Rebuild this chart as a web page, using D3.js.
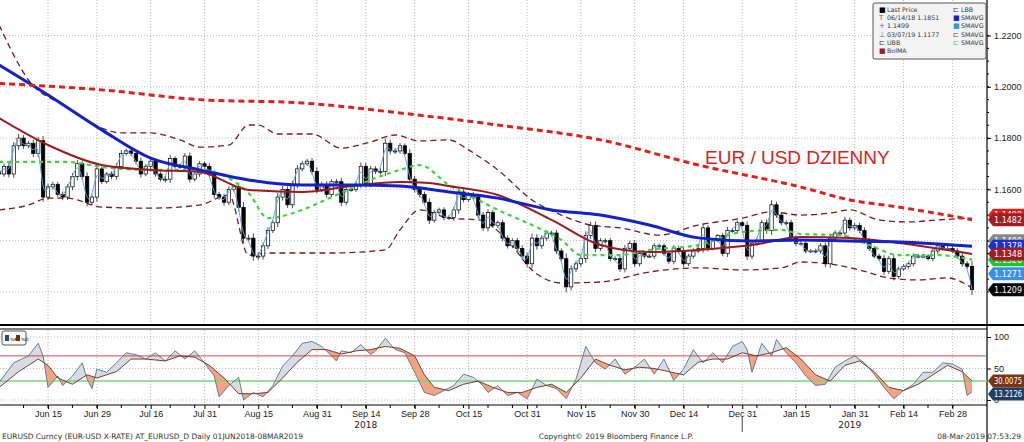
<!DOCTYPE html>
<html><head><meta charset="utf-8">
<script src="https://cdn.jsdelivr.net/npm/d3@7"></script>
<style>body{margin:0;background:#fff}svg{display:block;font-family:"DejaVu Sans",sans-serif}</style>
</head><body><svg id="c" width="1024" height="442"></svg>
<script>
// ---- DATA ----
const startDate = "2018-06-01";
const closes = [1.1660,
1.1690,1.1660,1.1770,1.1800,1.1770, 1.1780,1.1740,1.1790,1.1570,1.1610, 1.1620,1.1580,1.1570,1.1610,1.1650, 1.1700,1.1650,1.1550,1.1570,1.1680,
1.1630,1.1660,1.1650,1.1690,1.1740, 1.1750,1.1740,1.1710,1.1660,1.1690, 1.1710,1.1660,1.1640,1.1640,1.1720, 1.1690,1.1690,1.1730,1.1640,1.1660, 1.1700,1.1690,
1.1660,1.1580,1.1570, 1.1550,1.1600,1.1610,1.1530,1.1410, 1.1410,1.1340,1.1340,1.1380,1.1440, 1.1470,1.1570,1.1600,1.1540,1.1620, 1.1680,1.1700,1.1710,1.1670,1.1600,
1.1620,1.1580,1.1630,1.1630,1.1550, 1.1600,1.1600,1.1620,1.1690,1.1620, 1.1680,1.1670,1.1670,1.1780,1.1750, 1.1750,1.1770,1.1740,1.1640,1.1600,
1.1580,1.1550,1.1480,1.1510,1.1520, 1.1490,1.1490,1.1520,1.1590,1.1560, 1.1580,1.1570,1.1500,1.1450,1.1510, 1.1460,1.1470,1.1410,1.1380,1.1400, 1.1370,1.1340,1.1310,
1.1410,1.1380, 1.1410,1.1430,1.1430,1.1360,1.1330, 1.1220,1.1290,1.1310,1.1330,1.1420, 1.1460,1.1370,1.1400,1.1400,1.1330, 1.1330,1.1290,1.1370,1.1390,1.1310,
1.1350,1.1340,1.1340,1.1380,1.1380, 1.1350,1.1320,1.1370,1.1360,1.1310, 1.1340,1.1360,1.1370,1.1450,1.1370, 1.1400,1.1420,1.1350,1.1440,1.1440, 1.1470,
1.1460,1.1340,1.1390,1.1400, 1.1470,1.1440,1.1540,1.1500,1.1470, 1.1470,1.1410,1.1390,1.1390,1.1360, 1.1360,1.1360,1.1380,1.1310,1.1410, 1.1430,1.1430,1.1480,1.1450,
1.1460, 1.1440,1.1400,1.1370,1.1340,1.1330, 1.1280,1.1330,1.1260,1.1290,1.1300, 1.1310,1.1340,1.1340,1.1340,1.1330, 1.1360,1.1380,1.1370,1.1370,
1.1360, 1.1340,1.1310,1.1300,1.1209];
const wickPips = [40,35,45,50,55,40,30,45,50,60,40,35,30,40,35,45,50,40,55,35,60,30,25,35,40,45,30,35,40,45,30,40,35,30,45,50,30,35,40,45,30,35,30,
40,50,35,45,40,30,55,70,45,60,50,45,40,35,55,45,40,45,50,35,30,40,55,35,40,30,35,50,40,30,35,50,45,40,35,40,60,45,40,35,30,55,40,
35,40,50,35,30,35,30,40,50,35,30,35,45,40,45,35,30,40,35,30,35,40,45,60,50,40,35,30,40,35,70,45,40,35,55,45,50,35,30,35,30,40,45,35,40,
35,30,25,35,30,30,35,40,35,40,30,35,30,55,40,25,20,35,45,30,30,25,50,40,35,40,45,60,40,35,30,40,35,30,30,25,30,35,45,50,35,30,45,35,
30,35,40,35,30,30,45,35,50,30,25,30,35,30,30,25,35,40,30,30,30,35,40,35,70];
// indicators as [tradingDayIndex, value]
const sma200 = [[0,1.2013],[21,1.1988],[41,1.1950],[62,1.1937],[82,1.1898],[102,1.1851],[123,1.1793],[143,1.1695],[164,1.1609],[174,1.1559],[184,1.1531],[199,1.1482]];
const sma100 = [[0,1.2085],[10,1.1968],[21,1.1832],[31,1.1722],[41,1.1676],[51,1.1637],[62,1.1617],[72,1.1617],[82,1.1613],[92,1.1590],[102,1.1566],[113,1.1520],[123,1.1500],[133,1.1461],[143,1.1411],[154,1.1399],[164,1.1403],[174,1.1399],[184,1.1395],[199,1.1378]];
const sma50 = [[0,1.1878],[10,1.1773],[21,1.1695],[31,1.1676],[41,1.1668],[51,1.1598],[62,1.1590],[72,1.1613],[82,1.1629],[88,1.1625],[92,1.1613],[102,1.1578],[113,1.1481],[123,1.1383],[133,1.1356],[143,1.1364],[154,1.1383],[164,1.1414],[174,1.1411],[184,1.1391],[199,1.1348]];
const sma20 = [[0,1.1707],[14,1.1707],[21,1.1687],[31,1.1676],[41,1.1676],[51,1.1586],[55,1.1488],[62,1.1520],[68,1.1570],[76,1.1637],[82,1.1676],[86,1.1695],[92,1.1617],[98,1.1559],[102,1.1520],[109,1.1461],[115,1.1403],[119,1.1344],[127,1.1344],[133,1.1364],[143,1.1383],[152,1.1434],[160,1.1442],[164,1.1426],[172,1.1422],[178,1.1383],[184,1.1344],[192,1.1344],[199,1.1326]];
const bbUpper = [[0,1.2241],[6,1.2027],[14,1.1921],[21,1.1839],[25,1.1820],[31,1.1820],[37,1.1793],[41,1.1765],[47,1.1773],[51,1.1851],[53,1.1851],[57,1.1816],[64,1.1816],[70,1.1761],[76,1.1785],[81,1.1812],[86,1.1789],[92,1.1793],[96,1.1754],[102,1.1676],[109,1.1559],[115,1.1500],[121,1.1461],[127,1.1450],[135,1.1422],[143,1.1461],[152,1.1488],[158,1.1512],[164,1.1500],[170,1.1508],[174,1.1520],[180,1.1481],[186,1.1473],[192,1.1481],[199,1.1488]];
const bbLower = [[0,1.1520],[6,1.1539],[10,1.1566],[14,1.1566],[21,1.1531],[31,1.1527],[41,1.1539],[47,1.1578],[51,1.1344],[55,1.1352],[62,1.1352],[68,1.1352],[79,1.1364],[82,1.1442],[86,1.1520],[92,1.1488],[98,1.1481],[104,1.1403],[109,1.1286],[115,1.1235],[123,1.1239],[133,1.1278],[143,1.1294],[152,1.1286],[160,1.1294],[164,1.1317],[170,1.1309],[176,1.1286],[182,1.1255],[188,1.1247],[194,1.1255],[199,1.1216]];
const stochK = [[0,28],[3,59],[6,70],[8,90],[9,70],[10,20],[12,38],[13,23],[15,38],[17,59],[18,33],[19,18],[20,49],[22,44],[24,59],[26,75],[28,72],[30,65],[32,75],[34,62],[36,78],[38,65],[40,78],[42,59],[44,38],[45,5],[47,23],[49,36],[50,0],[52,12],[54,5],[56,23],[58,54],[60,70],[62,90],[64,93],[66,85],[68,70],[69,62],[70,78],[72,75],[74,88],[76,72],[77,78],[79,98],[81,80],[83,75],[85,44],[87,12],[89,7],[91,15],[93,23],[95,41],[97,36],[99,23],[100,12],[102,23],[104,7],[106,12],[108,2],[110,33],[112,23],[114,18],[116,2],[118,33],[120,85],[122,59],[124,49],[126,65],[128,41],[130,52],[132,65],[134,41],[136,65],[138,31],[140,49],[142,80],[144,59],[146,75],[148,59],[150,85],[152,93],[153,80],[154,44],[156,90],[158,70],[159,96],[161,75],[163,59],[165,38],[167,23],[169,25],[171,52],[173,62],[175,70],[177,59],[179,41],[181,20],[183,2],[185,15],[187,25],[189,44],[191,44],[193,59],[195,57],[197,49],[198,7],[199,13.2]];
const stochD = [[0,20],[4,45],[8,65],[10,55],[12,35],[15,25],[18,40],[20,35],[24,45],[27,65],[30,65],[34,62],[37,70],[40,68],[43,55],[46,35],[49,10],[52,10],[55,12],[58,35],[61,60],[64,80],[67,80],[70,73],[73,78],[76,80],[79,85],[82,82],[85,70],[87,40],[89,20],[92,15],[95,25],[98,30],[101,20],[104,12],[107,12],[110,20],[113,25],[116,12],[119,35],[122,65],[125,55],[128,48],[131,52],[134,50],[137,45],[140,40],[143,60],[146,65],[149,65],[152,75],[155,70],[158,75],[161,83],[164,65],[167,40],[170,30],[173,55],[176,62],[179,45],[182,20],[185,15],[188,25],[191,40],[194,55],[197,45],[199,30]];
const xTickIdx = [10,20,31,42,53,65,75,85,96,108,119,130,140,152,163,175,185,195];
const xTickLbl = ["Jun 15","Jun 29","Jul 16","Jul 31","Aug 15","Aug 31","Sep 14","Sep 28","Oct 15","Oct 31","Nov 15","Nov 30","Dec 14","Dec 31","Jan 15","Jan 31","Feb 14","Feb 28"];
const priceTicks = [1.12,1.14,1.16,1.18,1.20,1.22];
const stochTicks = [0,50,100];
const endTags = [
 {v:1.1499,t:"1.1499",c:"#e0201c"},
 {v:1.1482,t:"1.1482",c:"#a31c22"},
 {v:1.1400,t:"1.1400",c:"#888"},
 {v:1.1326,t:"1.1326",c:"#22c22a"},
 {v:1.1378,t:"1.1378",c:"#1a2fd6"},
 {v:1.1348,t:"1.1348",c:"#a31c22"},
 {v:1.1271,t:"1.1271",c:"#3b8fe6"},
 {v:1.1209,t:"1.1209",c:"#000"}];
// ---- DRAW ----
const svg = d3.select("#c");
const x = d3.scaleLinear().domain([10,199]).range([48,972]);
const y = d3.scaleLinear().domain([1.12,1.22]).range([292,35.5]);
const ys = d3.scaleLinear().domain([0,100]).range([400,337]);
const W = 987;
const grid = "#aaa";
svg.append("g").selectAll("line").data(priceTicks).join("line")
 .attr("x1",0).attr("x2",W).attr("y1",d=>y(d)).attr("y2",d=>y(d))
 .attr("stroke",grid).attr("stroke-dasharray","1,2").attr("stroke-width",0.8);
svg.append("g").selectAll("line").data(xTickIdx).join("line")
 .attr("x1",d=>x(d)).attr("x2",d=>x(d)).attr("y1",0).attr("y2",324)
 .attr("stroke",grid).attr("stroke-dasharray","1,2").attr("stroke-width",0.8);
svg.append("g").selectAll("line").data(xTickIdx).join("line")
 .attr("x1",d=>x(d)).attr("x2",d=>x(d)).attr("y1",330).attr("y2",404)
 .attr("stroke",grid).attr("stroke-dasharray","1,2").attr("stroke-width",0.8);
svg.append("g").selectAll("line").data(stochTicks).join("line")
 .attr("x1",0).attr("x2",W).attr("y1",d=>ys(d)).attr("y2",d=>ys(d))
 .attr("stroke",grid).attr("stroke-dasharray","1,2").attr("stroke-width",0.8);

const ln = d3.line().x(d=>x(d[0])).y(d=>y(d[1])).curve(d3.curveMonotoneX);
svg.append("clipPath").attr("id","mc").append("rect").attr("x",0).attr("y",0).attr("width",W).attr("height",324);
const main = svg.append("g").attr("clip-path","url(#mc)");
function path(data,color,w,dash){main.append("path").datum(data).attr("d",ln).attr("fill","none").attr("stroke",color).attr("stroke-width",w).attr("stroke-dasharray",dash||null);}
path(bbUpper,"#7a1a1e",1.3,"6,4");
path(bbLower,"#7a1a1e",1.3,"6,4");
const cd = closes.map((c,i)=>{const o=i?closes[i-1]:c+0.001;const w=wickPips[i]/10000/2;return{i,o,c,h:Math.max(o,c)+w*0.6,l:Math.min(o,c)-w*0.6};});
const cg = main.append("g");
cg.selectAll("line").data(cd).join("line").attr("x1",d=>x(d.i)).attr("x2",d=>x(d.i)).attr("y1",d=>y(d.h)).attr("y2",d=>y(d.l)).attr("stroke","#222").attr("stroke-width",0.8);
cg.selectAll("rect").data(cd).join("rect").attr("x",d=>x(d.i)-1.7).attr("width",3.4)
 .attr("y",d=>y(Math.max(d.o,d.c))).attr("height",d=>Math.max(1,Math.abs(y(d.o)-y(d.c))))
 .attr("fill",d=>d.c>=d.o?"#fff":"#000").attr("stroke","#000").attr("stroke-width",0.7);
main.append("path").datum(closes.map((c,i)=>[i,c])).attr("d",d3.line().x(d=>x(d[0])).y(d=>y(d[1])).curve(d3.curveBasis)).attr("fill","none").attr("stroke","#5aa6e8").attr("stroke-width",1);
path(sma20,"#3dd43d",2.2,"4,4");
path(sma50,"#9b1b20",2);
path(sma100,"#1421c8",3);
path(sma200,"#e0201c",3,"6,4");

svg.append("text").attr("x",705).attr("y",164).attr("fill","#e0201c").attr("font-family","Liberation Sans, Arial").attr("font-size",19).text("EUR / USD DZIENNY");

svg.append("line").attr("x1",W).attr("x2",W).attr("y1",0).attr("y2",442).attr("stroke","#000").attr("stroke-width",1.2);
svg.append("line").attr("x1",0).attr("x2",1024).attr("y1",325).attr("y2",325).attr("stroke","#000").attr("stroke-width",2);
svg.append("line").attr("x1",0).attr("x2",W).attr("y1",329).attr("y2",329).attr("stroke","#000").attr("stroke-width",1);
svg.append("line").attr("x1",0).attr("x2",W).attr("y1",405).attr("y2",405).attr("stroke","#000").attr("stroke-width",1);
const ay = svg.append("g").attr("transform",`translate(${W},0)`).call(d3.axisRight(y).tickValues(priceTicks.filter(d=>d>1.13)).tickFormat(d3.format(".4f")).tickSize(4));
ay.select(".domain").remove();
ay.selectAll("text").attr("font-size",9).attr("fill","#222");
const y2ticks = d3.range(1.12,1.2201,0.005);
svg.append("g").selectAll("line").data(y2ticks).join("line").attr("x1",W).attr("x2",W+2).attr("y1",d=>y(d)).attr("y2",d=>y(d)).attr("stroke","#000");
const as = svg.append("g").attr("transform",`translate(${W},0)`).call(d3.axisRight(ys).tickValues(stochTicks).tickSize(4));
as.select(".domain").remove(); as.selectAll("text").attr("font-size",9).attr("fill","#222");
const ax = svg.append("g").attr("transform","translate(0,405)").call(d3.axisBottom(x).tickValues(xTickIdx).tickFormat((d,i)=>xTickLbl[i]).tickSize(4));
ax.select(".domain").remove(); ax.selectAll("text").attr("font-size",9).attr("fill","#222").attr("dy","0.6em");
svg.append("g").selectAll("line").data(d3.range(0,200,5)).join("line").attr("x1",d=>x(d)).attr("x2",d=>x(d)).attr("y1",405).attr("y2",408).attr("stroke","#000");
svg.append("text").attr("x",x(75)).attr("y",428).attr("text-anchor","middle").attr("font-size",9).attr("fill","#222").text("2018");
svg.append("text").attr("x",x(174)).attr("y",428).attr("text-anchor","middle").attr("font-size",9).attr("fill","#222").text("2019");
svg.append("line").attr("x1",x(152)).attr("x2",x(152)).attr("y1",416).attr("y2",432).attr("stroke","#444");

function tag(t,c,yy,fs){const g=svg.append("g").attr("transform",`translate(${W+1},${yy})`);
 g.append("path").attr("d","M0,0 L5,-6.5 L36,-6.5 L36,6.5 L5,6.5 Z").attr("fill",c);
 g.append("text").attr("x",6).attr("y",3).attr("fill","#fff").attr("font-size",fs).attr("textLength",28).attr("lengthAdjust","spacingAndGlyphs").text(t);}
endTags.forEach(d=>tag(d.t,d.c,y(d.v),8.5));

const grid2 = d3.range(0,200);
const interp = arr=>grid2.map(i=>{let j=arr.findIndex(p=>p[0]>=i);if(j<=0)return arr[Math.max(j,0)][1];const a=arr[j-1],b=arr[j];return a[1]+(b[1]-a[1])*(i-a[0])/(b[0]-a[0]);});
const Kv = interp(stochK), Dv = interp(stochD);
const sp = svg.append("g");
const defs = svg.append("defs");
defs.append("clipPath").attr("id","above").append("path").datum(grid2).attr("d",d3.area().x(i=>x(i)).y0(330).y1(i=>ys(Dv[i])));
defs.append("clipPath").attr("id","below").append("path").datum(grid2).attr("d",d3.area().x(i=>x(i)).y0(405).y1(i=>ys(Dv[i])));
const ar = d3.area().x(i=>x(i)).y0(i=>ys(Dv[i])).y1(i=>ys(Kv[i]));
sp.append("path").datum(grid2).attr("d",ar).attr("fill","#d6dce3").attr("clip-path","url(#above)");
sp.append("path").datum(grid2).attr("d",ar).attr("fill","#f4a383").attr("clip-path","url(#below)");
sp.append("line").attr("x1",0).attr("x2",W).attr("y1",ys(70)).attr("y2",ys(70)).attr("stroke","#c94a4a").attr("stroke-width",1);
sp.append("line").attr("x1",0).attr("x2",W).attr("y1",ys(30)).attr("y2",ys(30)).attr("stroke","#7fd37f").attr("stroke-width",1.5);
sp.append("path").datum(stochK).attr("d",d3.line().x(d=>x(d[0])).y(d=>ys(d[1]))).attr("fill","none").attr("stroke","#5b6f8a").attr("stroke-width",0.9);
sp.append("path").datum(stochD).attr("d",d3.line().x(d=>x(d[0])).y(d=>ys(d[1]))).attr("fill","none").attr("stroke","#6b2e18").attr("stroke-width",0.9);
tag("30.0075","#7a3414",ys(30.0075),8.5); tag("13.2126","#1f3f66",ys(30.0075)+13,8.5);
const lg=svg.append("g").attr("transform","translate(2,331)");
lg.append("rect").attr("width",24).attr("height",14).attr("fill","#fff").attr("stroke","#555").attr("rx",2);
lg.append("rect").attr("x",3).attr("y",4).attr("width",4).attr("height",6).attr("fill","#1f4f8a");
lg.append("text").attr("x",8).attr("y",10).attr("font-size",4.5).text("%K");
lg.append("rect").attr("x",14).attr("y",4).attr("width",4).attr("height",6).attr("fill","#6b2e18");
lg.append("text").attr("x",19).attr("y",10).attr("font-size",4.5).text("%D");

const L = svg.append("g").attr("transform","translate(873,3)");
L.append("rect").attr("width",113).attr("height",56).attr("fill","#f3f3f3").attr("stroke","#555").attr("rx",2);
const left=[["■","Last Price","#000"],["T","06/14/18 1.1851","#666"],["+","1.1499","#666"],["⊥","03/07/19 1.1177","#666"],["⊏","UBB","#7a1a1e"],["■","BolMA","#a31c22"]];
left.forEach((d,i)=>{L.append("text").attr("x",6).attr("y",9+i*8.2).attr("font-size",7).attr("fill",d[2]).text(d[0]);
 L.append("text").attr("x",14).attr("y",9+i*8.2).attr("font-size",6.3).attr("fill","#333").text(d[1]);});
const right=[["⊏","LBB","#7a1a1e"],["■","SMAVG","#1421c8"],["■","SMAVG","#3b8fe6"],["⊏","SMAVG","#a31c22"],["⊏","SMAVG","#3dd43d"]];
right.forEach((d,i)=>{L.append("text").attr("x",80).attr("y",9+i*8.2).attr("font-size",7).attr("fill",d[2]).text(d[0]);
 L.append("text").attr("x",88).attr("y",9+i*8.2).attr("font-size",6.3).attr("fill","#333").text(d[1]);});

const ft=(xx,t,a)=>svg.append("text").attr("x",xx).attr("y",439).attr("font-size",7.5).attr("fill","#333").attr("text-anchor",a).text(t);
ft(2,"EURUSD Curncy (EUR-USD X-RATE) AT_EURUSD_D  Daily 01JUN2018-08MAR2019","start");
ft(616,"Copyright© 2019 Bloomberg Finance L.P.","middle");
ft(1021,"08-Mar-2019 07:53:29","end");
</script></body></html>
